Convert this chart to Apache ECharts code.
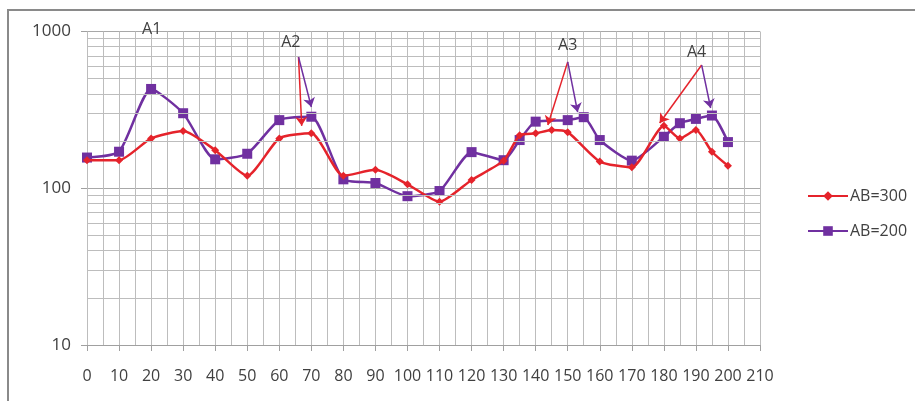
<!DOCTYPE html>
<html>
<head>
<meta charset="utf-8">
<script src="https://cdn.jsdelivr.net/npm/echarts@6/dist/echarts.min.js"></script>
<style>
html,body{margin:0;padding:0;background:#fff;}
#chart{width:915px;height:401px;}
</style>
</head>
<body>
<div id="chart"></div>
<script>
// ---- data ----
const redName = 'AB=300';
const purpleName = 'AB=200';
const redX = [0,10,20,30,40,50,60,70,80,90,100,110,120,130,135,140,145,150,160,170,180,185,190,195,200];
const redY = [151,151,208,232,175,120,208,224,120,131,106,82,113,150,218,224,235,228,148,136,250,208,235,171,139];
const purpleX = [0,10,20,30,40,50,60,70,80,90,100,110,120,130,135,140,150,155,160,170,180,185,190,195,200];
const purpleY = [157,171,430,301,153,166,272,286,114,108,89,96,170,151,203,266,272,284,203,150,213,260,277,291,197];
// annotation labels
const annoNames = ['A1','A2','A3','A4'];
const annoX = [20.2,63.6,150,190.2];
const annoY = [1000,857,820,740];
const annoOffsetY = [-2,0,0,0];
// annotation arrows: start points and end points
const arrowStartX = [66,150,191.8];
const arrowStartY = [688,640,611];
const redEndX = [67,143.8,178.7];
const redEndY = [250,253,261];
const purpleEndX = [70,153.1,194.6];
const purpleEndY = [330,306,325];
// minor horizontal gridlines (log axis)
const minorY = [20,30,40,50,60,70,80,90,200,300,400,500,600,700,800,900];

const RED = '#e5232b';
const PURPLE = '#7030a0';
const GRID = '#bdbdbd';
const TXT = '#404040';

function zip(xs, ys){ return xs.map((x,i)=>[x, ys[i]]); }
function arrows(ex, ey){
  return ex.map((x,i)=>[{coord:[arrowStartX[i], arrowStartY[i]]},{coord:[x, ey[i]]}]);
}

const chart = echarts.init(document.getElementById('chart'));
chart.setOption({
  backgroundColor:'#fff',
  animation:false,
  textStyle:{fontFamily:'Open Sans'},
  grid:{left:87, right:155, top:31.5, bottom:56},
  graphic:[{
    type:'rect', shape:{x:8, y:10, width:1000, height:500},
    style:{fill:'none', stroke:'#8a8a8a', lineWidth:2}, silent:true, z:-1
  }],
  legend:{
    orient:'vertical', left:802, top:183,
    itemWidth:40, itemHeight:12, itemGap:19,
    data:[redName, purpleName],
    textStyle:{color:TXT, fontSize:16, fontFamily:'Open Sans', padding:[0,0,0,-3]}
  },
  xAxis:{
    type:'value', min:0, max:210, interval:10,
    axisLine:{show:true, lineStyle:{color:'#a0a0a0', width:1}},
    axisTick:{show:true, length:6, lineStyle:{color:'#a0a0a0'}},
    axisLabel:{color:TXT, fontSize:16, margin:23, fontFamily:'Open Sans'},
    splitLine:{show:true, lineStyle:{color:GRID, width:1}},
    minorTick:{show:false, splitNumber:2},
    minorSplitLine:{show:true, lineStyle:{color:GRID, width:1}}
  },
  yAxis:{
    type:'log', logBase:10, min:10, max:1000,
    axisLine:{show:false},
    axisTick:{show:true, length:6, lineStyle:{color:'#a0a0a0'}},
    axisLabel:{color:TXT, fontSize:17, margin:16, fontFamily:'Open Sans', formatter:v=>String(Math.round(v))},
    splitLine:{show:true, lineStyle:{color:'#a8a8a8', width:1}}
  },
  series:[
    {
      type:'line', name:'grid-minor', data:[], silent:true, z:1,
      markLine:{
        silent:true, symbol:['none','none'], label:{show:false},
        lineStyle:{color:GRID, width:1, type:'solid'},
        data: minorY.map(v=>({yAxis:v}))
      },
      markPoint:{
        silent:true, symbol:'circle', symbolSize:0,
        label:{show:true, position:'inside', formatter:'{b}', color:TXT, fontSize:16, fontFamily:'Open Sans'},
        data: annoNames.map((n,i)=>({name:n, coord:[annoX[i], annoY[i]], label:{offset:[0, annoOffsetY[i]]}}))
      }
    },
    {
      type:'line', name:redName, data:zip(redX, redY), smooth:0.2, z:4,
      symbol:'diamond', symbolSize:8,
      lineStyle:{color:RED, width:2.5}, itemStyle:{color:RED},
      markLine:{
        silent:true, symbol:['none','arrow'], symbolSize:9, label:{show:false},
        lineStyle:{color:RED, width:1.5, type:'solid'},
        data: arrows(redEndX, redEndY)
      }
    },
    {
      type:'line', name:purpleName, data:zip(purpleX, purpleY), smooth:0.2, z:3,
      symbol:'rect', symbolSize:10,
      lineStyle:{color:PURPLE, width:2.5}, itemStyle:{color:PURPLE},
      markLine:{
        silent:true, symbol:['none','arrow'], symbolSize:9, label:{show:false},
        lineStyle:{color:PURPLE, width:1.5, type:'solid'},
        data: arrows(purpleEndX, purpleEndY)
      }
    }
  ]
});
</script>
</body>
</html>
